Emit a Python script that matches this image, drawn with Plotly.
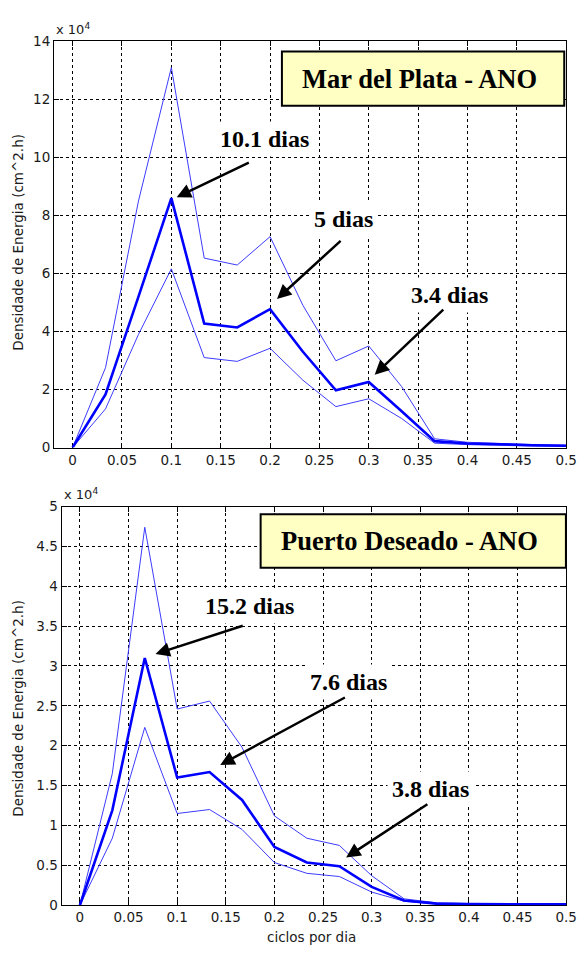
import plotly.graph_objects as go

# ---------------- data ----------------
freq = [0, 0.0333, 0.0667, 0.1, 0.1333, 0.1667, 0.2, 0.2333, 0.2667, 0.3,
        0.3333, 0.3667, 0.4, 0.4333, 0.4667, 0.5]

# Mar del Plata (x 10^4)
mdp_mean = [0, 1.83, 5.2, 8.6, 4.27, 4.14, 4.77, 3.3, 1.97, 2.26,
            1.25, 0.22, 0.14, 0.10, 0.08, 0.06]
mdp_upper = [0, 2.75, 8.5, 13.1, 6.53, 6.29, 7.27, 4.9, 2.99, 3.5,
             2.1, 0.3, 0.18, 0.13, 0.10, 0.08]
mdp_lower = [0, 1.33, 3.9, 6.16, 3.1, 2.97, 3.42, 2.32, 1.41, 1.68,
             1.0, 0.15, 0.10, 0.07, 0.05, 0.04]

# Puerto Deseado (x 10^4)
pd_mean = [0, 1.19, 3.1, 1.6, 1.67, 1.32, 0.73, 0.535, 0.49, 0.23,
           0.06, 0.02, 0.015, 0.012, 0.01, 0.01]
pd_upper = [0, 1.65, 4.74, 2.46, 2.56, 1.98, 1.12, 0.84, 0.75, 0.37,
            0.08, 0.03, 0.02, 0.015, 0.012, 0.012]
pd_lower = [0, 0.84, 2.23, 1.15, 1.2, 0.95, 0.535, 0.4, 0.36, 0.165,
            0.05, 0.015, 0.01, 0.008, 0.007, 0.007]

x_ticks = [0, 0.05, 0.1, 0.15, 0.2, 0.25, 0.3, 0.35, 0.4, 0.45, 0.5]
x_ticktext = ["0", "0.05", "0.1", "0.15", "0.2", "0.25", "0.3", "0.35", "0.4", "0.45", "0.5"]
y1_ticks = [0, 2, 4, 6, 8, 10, 12, 14]
y1_ticktext = ["0", "2", "4", "6", "8", "10", "12", "14"]
y2_ticks = [0, 0.5, 1, 1.5, 2, 2.5, 3, 3.5, 4, 4.5, 5]
y2_ticktext = ["0", "0.5", "1", "1.5", "2", "2.5", "3", "3.5", "4", "4.5", "5"]

titles = ["Mar del Plata - ANO", "Puerto Deseado - ANO"]
ylabel = "Densidade de Energia (cm^2.h)"
xlabel = "ciclos por dia"

# peak labels: text, text position, arrow tail, arrow head (data coords)
top_labels = ["10.1 dias", "5 dias", "3.4 dias"]
top_text_pos = [(0.194, 10.63), (0.274, 7.88), (0.382, 5.25)]
top_arrow_tail = [(0.180, 9.85), (0.273, 7.17), (0.377, 4.80)]
top_arrow_head = [(0.1054, 8.63), (0.207, 5.12), (0.306, 2.51)]

bot_labels = ["15.2 dias", "7.6 dias", "3.8 dias"]
bot_text_pos = [(0.174, 3.755), (0.2757, 2.796), (0.360, 1.463)]
bot_arrow_tail = [(0.169, 3.51), (0.274, 2.615), (0.3588, 1.278)]
bot_arrow_head = [(0.0777, 3.15), (0.1443, 1.759), (0.2737, 0.599)]

# ---------------- layout helpers ----------------
W, H = 588, 955


def px(x):
    return x / W


def py(y):
    return 1 - y / H


SANS = "DejaVu Sans"
SERIF = "Liberation Serif, Times New Roman, serif"
TICKFONT = dict(family=SANS, size=13.5, color="#1a1a1a")
BLUE = "#0000ff"
THIN = "#3c3cff"

fig = go.Figure()

for (xa, ya, mean, up, lo) in [("x", "y", mdp_mean, mdp_upper, mdp_lower),
                                ("x2", "y2", pd_mean, pd_upper, pd_lower)]:
    fig.add_trace(go.Scatter(x=freq, y=up, mode="lines", xaxis=xa, yaxis=ya,
                             line=dict(color=THIN, width=1), showlegend=False))
    fig.add_trace(go.Scatter(x=freq, y=lo, mode="lines", xaxis=xa, yaxis=ya,
                             line=dict(color=THIN, width=1), showlegend=False))
    fig.add_trace(go.Scatter(x=freq, y=mean, mode="lines", xaxis=xa, yaxis=ya,
                             line=dict(color=BLUE, width=2.6), showlegend=False))

axis_common = dict(
    showgrid=True, gridcolor="black", gridwidth=1, griddash="3px,3px",
    zeroline=False, showline=True, linecolor="black", linewidth=1,
    mirror="ticks", ticks="inside", ticklen=5, tickcolor="black",
    tickfont=TICKFONT, layer="below traces",
)

fig.update_layout(
    width=W, height=H,
    margin=dict(l=0, r=0, t=0, b=0),
    paper_bgcolor="white", plot_bgcolor="white",
    showlegend=False,
    xaxis=dict(domain=[px(55), px(577)], range=[-0.0189, 0.5], anchor="y",
               tickvals=x_ticks, ticktext=x_ticktext, **axis_common),
    yaxis=dict(domain=[py(447), py(34)], range=[0, 14], anchor="x",
               tickvals=y1_ticks, ticktext=y1_ticktext, **axis_common),
    xaxis2=dict(domain=[px(62.7), px(577)], range=[-0.0189, 0.5], anchor="y2",
                tickvals=x_ticks, ticktext=x_ticktext, **axis_common),
    yaxis2=dict(domain=[py(912.5), py(507)], range=[0, 5], anchor="x2",
                tickvals=y2_ticks, ticktext=y2_ticktext, **axis_common),
)

annotations = []
shapes = []

# exponent labels
for (xx, yy) in [(55, 21), (62.7, 494)]:
    annotations.append(dict(xref="paper", yref="paper", x=px(xx), y=py(yy),
                            xanchor="left", yanchor="middle", showarrow=False,
                            text="x 10<sup>4</sup>",
                            font=dict(family=SANS, size=13, color="#1a1a1a")))

# y axis titles
for yy in [238, 712]:
    annotations.append(dict(xref="paper", yref="paper", x=px(18), y=py(yy),
                            xanchor="center", yanchor="middle", showarrow=False,
                            text=ylabel, textangle=-90,
                            font=dict(family=SANS, size=13.5, color="#1a1a1a")))

# x axis title (bottom only)
annotations.append(dict(xref="paper", yref="paper", x=px(317), y=py(945),
                        xanchor="center", yanchor="middle", showarrow=False,
                        text=xlabel,
                        font=dict(family=SANS, size=13.5, color="#1a1a1a")))

# title boxes
boxes = [(287.3, 44.3, 575, 99.3), (265.6, 515, 576.7, 569.3)]
for (x0, y0, x1, y1), t in zip(boxes, titles):
    shapes.append(dict(type="rect", xref="paper", yref="paper",
                       x0=px(x0), x1=px(x1), y0=py(y1), y1=py(y0),
                       fillcolor="#ffffc4", line=dict(color="black", width=2),
                       layer="above"))
    annotations.append(dict(xref="paper", yref="paper",
                            x=px((x0 + x1) / 2 - 4), y=py((y0 + y1) / 2),
                            xanchor="center", yanchor="middle", showarrow=False,
                            text="<b>" + t + "</b>",
                            font=dict(family=SERIF, size=26.5, color="black")))

# peak labels + arrows
for xr, yr, labels, tpos, tails, heads in [
        ("x", "y", top_labels, top_text_pos, top_arrow_tail, top_arrow_head),
        ("x2", "y2", bot_labels, bot_text_pos, bot_arrow_tail, bot_arrow_head)]:
    for lab, (tx, ty), (ax, ay), (hx, hy) in zip(labels, tpos, tails, heads):
        annotations.append(dict(xref=xr, yref=yr, x=tx, y=ty, showarrow=False,
                                xanchor="center", yanchor="middle",
                                text="<b>" + lab + "</b>", bgcolor="white",
                                borderpad=4,
                                font=dict(family=SERIF, size=24, color="black")))
        annotations.append(dict(xref=xr, yref=yr, x=hx, y=hy, axref=xr, ayref=yr,
                                ax=ax, ay=ay, text="", showarrow=True,
                                arrowhead=2, arrowsize=1.15, arrowwidth=2.5,
                                arrowcolor="black", standoff=0, startstandoff=0))

fig.update_layout(annotations=annotations, shapes=shapes)

fig.write_html("out.html")
